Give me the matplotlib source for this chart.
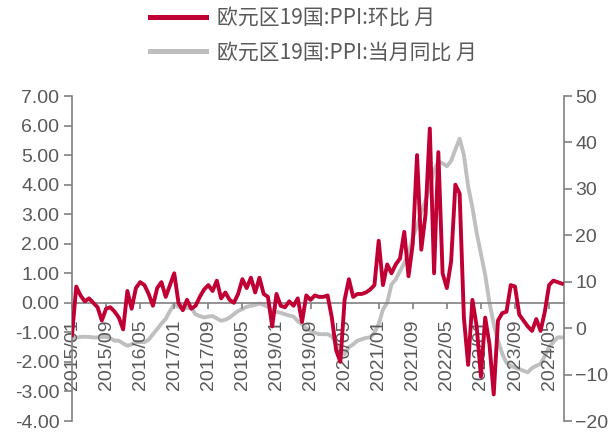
import numpy as np
import pandas as pd
import matplotlib
matplotlib.use('Agg')
import matplotlib.pyplot as plt
from matplotlib.lines import Line2D

plt.rcParams['font.family'] = ['Liberation Sans', 'DejaVu Sans']

# monthly categories 2015/01 .. 2024/08
months = pd.date_range('2015-01-01', periods=116, freq='MS').strftime('%Y/%m').tolist()

# 欧元区19国 PPI 环比 (%), left axis
ppi_mom = [
    -1.1, 0.55, 0.25, 0.05, 0.15, 0.0, -0.15, -0.6, -0.2, -0.15,
    -0.3, -0.5, -0.9, 0.4, -0.2, 0.5, 0.7, 0.6, 0.3, -0.1,
    0.5, 0.7, 0.2, 0.6, 1.0, 0.0, -0.25, 0.1, -0.2, -0.1,
    0.2, 0.45, 0.6, 0.4, 0.75, 0.15, 0.35, 0.1, 0.0, 0.3,
    0.8, 0.5, 0.85, 0.35, 0.85, 0.3, 0.2, -0.8, 0.3, -0.1,
    -0.15, 0.05, -0.1, 0.15, -0.65, 0.25, 0.1, 0.25, 0.2, 0.2,
    0.25, -0.5, -1.6, -2.0, 0.1, 0.8, 0.2, 0.3, 0.3, 0.35,
    0.45, 0.6, 2.1, 0.6, 1.3, 1.0, 1.3, 1.5, 2.4, 0.9,
    2.0, 5.0, 1.8, 3.0, 5.9, 1.0, 5.1, 1.0, 0.5, 1.4,
    4.0, 3.7, -0.5, -2.1, 0.1, -0.8, -2.5, -0.5, -1.4, -3.1,
    -0.6, -0.35, -0.3, 0.6, 0.55, -0.4, -0.6, -0.8, -0.95, -0.55,
    -0.95, -0.3, 0.6, 0.75, 0.7, 0.65,
]

# 欧元区19国 PPI 当月同比 (%), right axis
ppi_yoy = [
    -2.4, -2.0, -1.9, -1.85, -1.9, -2.0, -2.0, -1.9, -1.85, -2.2,
    -2.7, -2.7, -3.3, -3.8, -3.5, -3.0, -3.0, -3.0, -2.5, -1.3,
    -0.2, 1.0, 2.0, 3.7, 5.1, 4.6, 4.1, 4.4, 4.4, 3.0,
    2.6, 2.3, 2.5, 2.6, 2.1, 1.6, 1.8, 2.3, 3.0, 3.7,
    4.1, 4.6, 4.8, 5.0, 5.3, 5.0, 4.6, 3.7, 3.5, 3.3,
    3.0, 2.7, 2.5, 1.5, 0.8, 0.0, -0.6, -1.0, -1.3, -1.3,
    -1.3, -1.8, -3.2, -5.0, -5.6, -4.1, -3.5, -2.7, -2.4, -2.1,
    -2.0, -1.0, 0.9, 4.0, 5.5, 9.4, 10.5, 12.3, 14.0, 16.0,
    19.5, 22.0, 25.0, 27.5, 30.5, 34.0, 35.9, 35.5, 34.9, 36.0,
    38.5, 40.8, 37.3, 30.5, 26.0, 20.5, 16.0, 11.5, 5.5, 0.9,
    -2.7, -5.5, -7.5, -8.1, -8.5, -8.8, -9.2, -9.5, -8.6, -8.1,
    -7.7, -6.0, -4.1, -3.0, -2.0, -2.0,
]

labels = ['欧元区19国:PPI:环比 月', '欧元区19国:PPI:当月同比 月']
red = '#C00035'
grey = '#BFBFBF'
txt = '#595959'
axc = '#808080'

fig = plt.figure(figsize=(6.08, 4.32), dpi=100)
ax = fig.add_axes([72 / 608, 11 / 432, 492 / 608, 325 / 432])
ax2 = ax.twinx()

x = np.arange(len(months))
ax2.plot(x, ppi_yoy, color=grey, lw=2.8, solid_joinstyle='round')
ax.plot(x, ppi_mom, color=red, lw=2.8, solid_joinstyle='round', zorder=3)
ax.set_zorder(ax2.get_zorder() + 1)
ax.patch.set_visible(False)

ax.set_xlim(0, 115.5)
ax.set_ylim(-4, 7)
ax.set_yticks(np.arange(-4, 8, 1))
ax.set_yticklabels(['%.2f' % v for v in np.arange(-4, 8, 1)])
ax2.set_ylim(-20, 50)
ax2.set_yticks(range(-20, 51, 10))

ax.set_xticks(x[::8])
ax.set_xticklabels(months[::8])
ax.spines['bottom'].set_position(('data', 0))

for s in ['top', 'right']:
    ax.spines[s].set_visible(False)
for s in ['top', 'left', 'bottom']:
    ax2.spines[s].set_visible(False)
ax.spines['left'].set_color(axc)
ax.spines['bottom'].set_color(axc)
ax2.spines['right'].set_color(axc)
for sp in [ax.spines['left'], ax.spines['bottom'], ax2.spines['right']]:
    sp.set_linewidth(1.2)

ax.tick_params(axis='y', labelsize=14, colors=axc, labelcolor=txt, length=6, width=1.2, pad=3)
ax.tick_params(axis='x', labelsize=14, colors=axc, labelcolor=txt, length=4, width=1.2,
               pad=8, labelrotation=90)
ax2.tick_params(axis='y', labelsize=14, colors=axc, labelcolor=txt, length=6, width=1.2, pad=2)

handles = [Line2D([], [], color=red, lw=3.6), Line2D([], [], color=grey, lw=3.6)]
fig.legend(handles, labels, loc='upper left', bbox_to_anchor=(150 / 608, 1 - 7 / 432),
           frameon=False, borderaxespad=0, borderpad=0, handlelength=2.7,
           handletextpad=0.5, labelspacing=0.6,
           prop={'family': ['Noto Sans CJK SC', 'DejaVu Sans'], 'size': 15},
           labelcolor=txt)

fig.savefig('out.png', dpi=100)
